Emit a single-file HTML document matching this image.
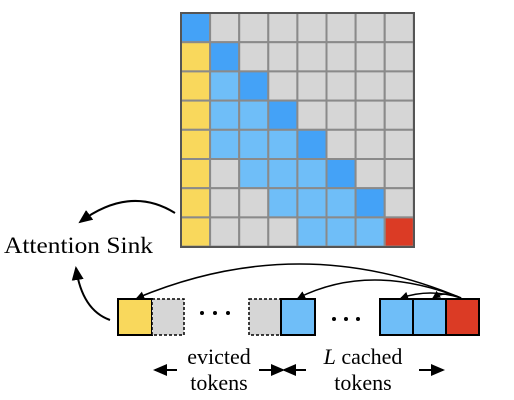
<html><body style="margin:0;background:#fff;width:514px;height:400px;overflow:hidden">
<svg width="514" height="400" xmlns="http://www.w3.org/2000/svg">
<defs><marker id="a" markerWidth="8" markerHeight="8" refX="7" refY="4" orient="auto" markerUnits="userSpaceOnUse"><path d="M0,0 L8,4 L0,8 Z" fill="#000"/></marker>
<marker id="b" markerWidth="14" markerHeight="12" refX="12" refY="6" orient="auto" markerUnits="userSpaceOnUse"><path d="M0,0 L14,6 L0,12 Z" fill="#000"/></marker></defs>
<g id="grid"></g>
<rect x="181" y="13" width="233" height="234" fill="none" stroke="#555" stroke-width="2"/>
<path d="M175,213 Q130,185 80,222" fill="none" stroke="#000" stroke-width="2" marker-end="url(#b)"/>
<path d="M110,320 Q82,310 76,268" fill="none" stroke="#000" stroke-width="2" marker-end="url(#b)"/>
<text x="4" y="253" font-family="Liberation Serif,serif" font-size="23.5" textLength="149" lengthAdjust="spacingAndGlyphs">Attention Sink</text>
<rect x="118" y="299" width="34" height="36" fill="#f9d85c" stroke="#000" stroke-width="2"/>
<rect x="152" y="299" width="32" height="36" fill="#d6d6d6" stroke="#000" stroke-width="1.5" stroke-dasharray="3,2"/>
<rect x="249" y="299" width="32" height="36" fill="#d6d6d6" stroke="#000" stroke-width="1.5" stroke-dasharray="3,2"/>
<rect x="281" y="299" width="34" height="36" fill="#6fbef8" stroke="#000" stroke-width="2"/>
<rect x="380" y="299" width="33" height="36" fill="#6fbef8" stroke="#000" stroke-width="2"/>
<rect x="413" y="299" width="33" height="36" fill="#6fbef8" stroke="#000" stroke-width="2"/>
<rect x="446" y="299" width="33" height="36" fill="#db3b25" stroke="#000" stroke-width="2"/>
<g fill="#000"><circle cx="202" cy="313" r="2"/><circle cx="215" cy="313" r="2"/><circle cx="228" cy="313" r="2"/>
<circle cx="334" cy="319" r="2"/><circle cx="346" cy="319" r="2"/><circle cx="358" cy="319" r="2"/></g>
<path d="M461,298 Q300,230 137,298" fill="none" stroke="#000" stroke-width="1.5" marker-end="url(#a)"/>
<path d="M461,298 Q370,262 298,298" fill="none" stroke="#000" stroke-width="1.5" marker-end="url(#a)"/>
<path d="M461,298 Q430,288 401,298" fill="none" stroke="#000" stroke-width="1.5" marker-end="url(#a)"/>
<path d="M461,298 Q445,290 433,298" fill="none" stroke="#000" stroke-width="1.5" marker-end="url(#a)"/>
<g font-family="Liberation Serif,serif" font-size="22" text-anchor="middle">
<text x="219" y="364">evicted</text><text x="219" y="390">tokens</text>
<text x="363" y="364"><tspan font-style="italic">L</tspan> cached</text><text x="363" y="390">tokens</text></g>
<g stroke="#000" stroke-width="2" fill="none">
<path d="M177,370 H155" marker-end="url(#b)"/><path d="M259,370 H283" marker-end="url(#b)"/>
<path d="M306,370 H284" marker-end="url(#b)"/><path d="M419,370 H443" marker-end="url(#b)"/></g>
</svg>
<script>
var g=document.getElementById('grid'),s='';
for(var r=0;r<8;r++)for(var c=0;c<8;c++){var f='#d6d6d6';
if(c==0&&r>=1)f='#f9d85c';else if(c==r)f='#44a2f7';else if(c<r&&c>=1&&c>=r-3)f='#6fbef8';
if(r==7&&c==7)f='#db3b25';
s+='<rect x="'+(181+c*29.1)+'" y="'+(13+r*29.2)+'" width="29.1" height="29.2" fill="'+f+'" stroke="#8a8a8a" stroke-width="2"/>';}
g.innerHTML=s;
</script>
</body></html>
